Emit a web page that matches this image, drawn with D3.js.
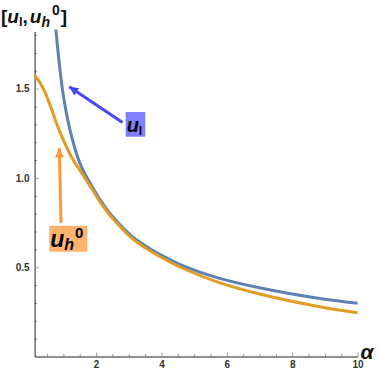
<!DOCTYPE html>
<html>
<head>
<meta charset="utf-8">
<script src="https://cdn.jsdelivr.net/npm/d3@7"></script>
<style>
  body { margin: 0; background: #fff; }
  svg { display: block; font-family: "Liberation Sans", Arial, sans-serif; }
</style>
</head>
<body>
<script>
// values
const alphaL = [0.72, 0.875, 1.0, 1.2, 1.5, 1.85, 2.1, 2.5, 3.1, 3.65, 4.2, 4.7, 5.7, 7.0, 8.8, 10]
const uL     = [1.93, 1.64, 1.46, 1.27, 1.085, 0.96, 0.885, 0.785, 0.672, 0.603, 0.548, 0.505, 0.442, 0.385, 0.326, 0.298]

const alphaH = [0.12, 0.28, 0.45, 0.6, 0.9, 1.3, 1.5, 1.85, 2.1, 2.5, 3.1, 3.65, 4.2, 4.7, 5.7, 7.0, 8.8, 10]
const uH0    = [1.576, 1.535, 1.475, 1.405, 1.255, 1.10, 1.045, 0.945, 0.872, 0.775, 0.662, 0.592, 0.535, 0.49, 0.418, 0.35, 0.28, 0.245]

const xMajor = [2, 4, 6, 8, 10]
const yMajor = [0.5, 1.0, 1.5]

const W = 382, H = 374
const BLUE = "#5e81b5", ORANGE = "#e19c24"

const svg = d3.select("body").append("svg")
  .attr("width", W)
  .attr("height", H)

const x = d3.scaleLinear().domain([0.12, 10]).range([34.6, 357.6])
const y = d3.scaleLinear().domain([0, 1.82]).range([356.5, 31.5])

// clip for curves
svg.append("clipPath").attr("id", "plot")
  .append("rect")
  .attr("x", x(0.12) - 3).attr("y", y(1.82) - 2)
  .attr("width", x(10) - x(0.12) + 6)
  .attr("height", y(0) - y(1.82) + 4)

// X axis
const xMinor = d3.range(0.5, 10.01, 0.5).filter(v => !xMajor.includes(v))
svg.append("g")
  .attr("transform", `translate(0, ${y(0)})`)
  .call(d3.axisBottom(x).tickValues(xMinor).tickSizeInner(-2.5).tickSizeOuter(0).tickFormat(""))
  .call(g => g.select(".domain").remove())
  .selectAll("line").attr("stroke", "#999")

svg.append("g")
  .attr("transform", `translate(0, ${y(0)})`)
  .call(d3.axisBottom(x).tickValues(xMajor).tickSizeInner(-4).tickSizeOuter(0).tickPadding(4)
    .tickFormat(d3.format("d")))
  .call(g => g.select(".domain").attr("stroke", "#222"))
  .call(g => g.selectAll("line").attr("stroke", "#999"))
  .selectAll("text")
    .attr("font-size", "10px")
    .attr("font-weight", "bold")
    .attr("fill", "#333")

// Y axis
const yMinor = d3.range(0.1, 1.81, 0.1).map(v => +v.toFixed(1)).filter(v => !yMajor.includes(v))
svg.append("g")
  .attr("transform", `translate(${x(0.12)}, 0)`)
  .call(d3.axisLeft(y).tickValues(yMinor).tickSizeInner(-2.5).tickSizeOuter(0).tickFormat(""))
  .call(g => g.select(".domain").remove())
  .selectAll("line").attr("stroke", "#999")

svg.append("g")
  .attr("transform", `translate(${x(0.12)}, 0)`)
  .call(d3.axisLeft(y).tickValues(yMajor).tickSizeInner(-4).tickSizeOuter(0).tickPadding(5)
    .tickFormat(d3.format(".1f")))
  .call(g => g.select(".domain").attr("stroke", "#222"))
  .call(g => g.selectAll("line").attr("stroke", "#999"))
  .selectAll("text")
    .attr("font-size", "10px")
    .attr("font-weight", "bold")
    .attr("fill", "#333")

// curves
const line = d3.line()
  .x(d => x(d[0]))
  .y(d => y(d[1]))
  .curve(d3.curveCatmullRom.alpha(0.5))

svg.append("path")
  .datum(d3.zip(alphaL, uL))
  .attr("clip-path", "url(#plot)")
  .attr("fill", "none")
  .attr("stroke", BLUE)
  .attr("stroke-width", 3)
  .attr("d", line)

svg.append("path")
  .datum(d3.zip(alphaH, uH0))
  .attr("clip-path", "url(#plot)")
  .attr("fill", "none")
  .attr("stroke", ORANGE)
  .attr("stroke-width", 3)
  .attr("d", line)

// arrows
const defs = svg.append("defs")
function marker(id, color) {
  defs.append("marker")
    .attr("id", id)
    .attr("viewBox", "0 0 10 10")
    .attr("refX", 10).attr("refY", 5)
    .attr("markerUnits", "userSpaceOnUse")
    .attr("markerWidth", 12).attr("markerHeight", 9)
    .attr("orient", "auto")
    .append("path")
    .attr("d", "M0,0 L10,5 L0,10 Z")
    .attr("fill", color)
}
marker("headBlue", "#4646ff")
marker("headOrange", "#ff9a35")

function arrow(from, to, color, head) {
  svg.append("line")
    .attr("x1", x(from[0])).attr("y1", y(from[1]))
    .attr("x2", x(to[0])).attr("y2", y(to[1]))
    .attr("stroke", color)
    .attr("stroke-width", 3)
    .attr("marker-end", `url(#${head})`)
}
arrow([2.81, 1.31], [1.18, 1.51], "#4646ff", "headBlue")
arrow([0.927, 0.747], [0.875, 1.166], "#ff9a35", "headOrange")

// label boxes
const boxL = svg.append("g").attr("transform", `translate(${x(2.905)}, ${y(1.369)})`)
boxL.append("rect").attr("width", 19.6).attr("height", 24.7).attr("fill", "#8080ff")
const tL = boxL.append("text").attr("x", 1).attr("y", 20).attr("font-weight", "bold").attr("fill", "#000")
tL.append("tspan").attr("font-style", "italic").attr("font-size", "20px").text("u")
tL.append("tspan").attr("font-size", "12px").attr("dy", 3).text("l")

const boxH = svg.append("g").attr("transform", `translate(${x(0.569)}, ${y(0.732)})`)
boxH.append("rect").attr("width", 38).attr("height", 26).attr("fill", "#ffb36e")
const tH = boxH.append("text").attr("x", 1).attr("y", 21).attr("font-weight", "bold").attr("fill", "#000")
tH.append("tspan").attr("font-style", "italic").attr("font-size", "23px").text("u")
tH.append("tspan").attr("font-style", "italic").attr("font-size", "16px").attr("dy", 3).text("h")
tH.append("tspan").attr("font-size", "15px").attr("dy", -12).attr("dx", 1).text("0")

// axis titles
const title = svg.append("text").attr("x", 1).attr("y", 22.5)
  .attr("font-weight", "bold").attr("font-size", "19px").attr("fill", "#111")
title.append("tspan").text("[")
title.append("tspan").attr("font-style", "italic").text("u")
title.append("tspan").attr("font-size", "13px").attr("dy", 3).text("l")
title.append("tspan").attr("dy", -3).text(",")
title.append("tspan").attr("font-style", "italic").attr("dx", 2).text("u")
title.append("tspan").attr("font-style", "italic").attr("font-size", "14px").attr("dy", 4).text("h")
title.append("tspan").attr("font-size", "14px").attr("dy", -12).attr("dx", 2).text("0")
title.append("tspan").attr("dy", 8).attr("dx", 1).text("]")

svg.append("text")
  .attr("x", x(10) + 3).attr("y", y(0) + 2)
  .attr("font-weight", "bold").attr("font-style", "italic")
  .attr("font-size", "21px").attr("fill", "#111")
  .text("α")
</script>
</body>
</html>
